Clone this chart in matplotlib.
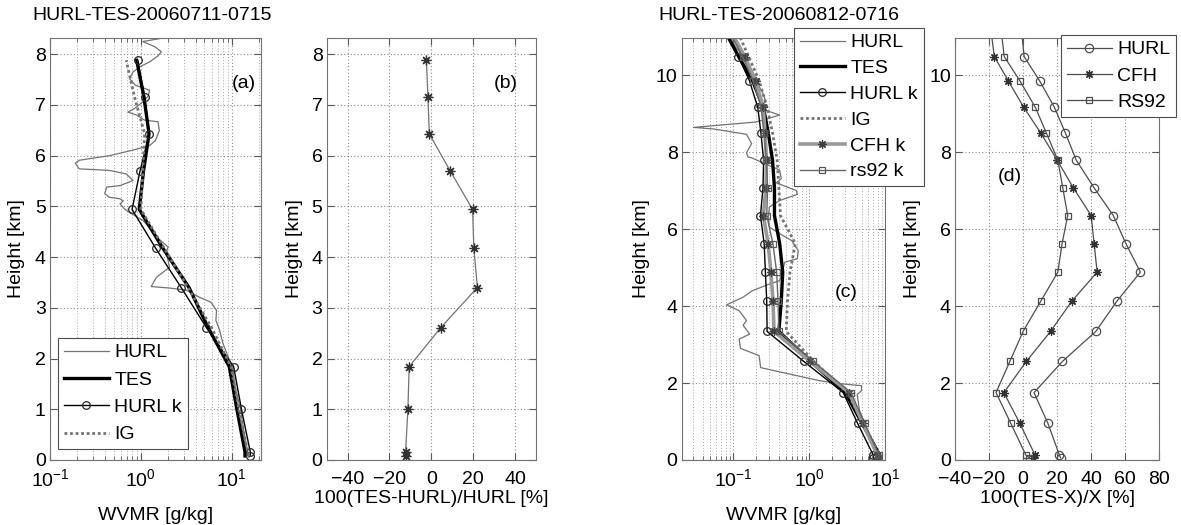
import matplotlib
matplotlib.use('Agg')
import matplotlib.pyplot as plt
from matplotlib.ticker import FixedLocator, FuncFormatter, LogLocator, NullFormatter
import numpy as np

plt.rcParams['font.family'] = ['Liberation Sans', 'DejaVu Sans']
plt.rcParams['mathtext.fontset'] = 'custom'
plt.rcParams['mathtext.rm'] = 'Liberation Sans'
plt.rcParams['mathtext.it'] = 'Liberation Sans:italic'
plt.rcParams['mathtext.bf'] = 'Liberation Sans:bold'
plt.rcParams['font.size'] = 14

# ---------------- data: case 1 (2006-07-11) ----------------
title_1 = "HURL-TES-20060711-0715"
title_2 = "HURL-TES-20060812-0716"

lev_a = [0.08, 0.16, 1.0, 1.84, 2.61, 3.40, 4.18, 4.94, 5.70, 6.43, 7.16, 7.88]
tes_a = [14.0, 14.0, 11.4, 9.4, 5.5, 3.39, 1.74, 0.96, 1.07, 1.23, 1.08, 0.90]
hurlk_a = [16.0, 16.0, 12.8, 10.5, 5.27, 2.78, 1.45, 0.80, 0.98, 1.24, 1.10, 0.92]
ig_a = [15.5, 15.0, 12.0, 9.8, 6.0, 3.3, 1.8, 1.0, 1.05, 1.1, 0.85, 0.69]
diff_b = [-12.3, -12.3, -11.2, -10.6, 4.5, 22.0, 20.3, 19.7, 9.0, -1.0, -1.6, -2.4]

hurl_a_h = [8.45, 8.33, 8.25, 8.15, 8.05, 7.97, 7.85, 7.75, 7.65, 7.52, 7.39, 7.29,
            7.17, 7.06, 6.93, 6.86, 6.80, 6.70, 6.67, 6.50, 6.30, 6.20, 6.11, 6.00,
            5.91, 5.85, 5.79, 5.74, 5.71, 5.64, 5.51, 5.41, 5.38, 5.25, 5.18, 5.15,
            5.11, 5.05, 4.95, 4.88, 4.72, 4.50, 4.39, 4.26, 4.20, 4.10, 3.80, 3.60,
            3.42, 3.39, 3.35, 3.21, 3.11, 2.95, 2.75, 2.58, 2.30, 2.00, 1.80, 1.40,
            1.00, 0.60, 0.30, 0.05]
hurl_a_x = [1.5, 1.9, 1.05, 1.42, 1.68, 1.55, 1.25, 0.97, 0.82, 0.75, 0.87, 1.25,
            1.2, 1.05, 0.85, 0.72, 0.9, 1.1, 1.54, 1.6, 1.45, 1.25, 0.82, 0.45,
            0.21, 0.19, 0.20, 0.21, 0.45, 0.69, 0.82, 0.59, 0.42, 0.40, 0.45, 0.59,
            0.64, 0.59, 0.66, 0.75, 1.06, 1.35, 1.5, 1.82, 2.0, 1.9, 2.07, 1.48,
            1.30, 2.07, 3.15, 4.4, 5.9, 6.8, 6.7, 7.3, 8.0, 9.3, 10.2, 11.0,
            12.5, 13.5, 14.5, 15.5]

# ---------------- data: case 2 (2006-08-12) ----------------
lev_c = [0.06, 0.13, 0.95, 1.75, 2.56, 3.34, 4.12, 4.88, 5.62, 6.35, 7.07, 7.79,
         8.50, 9.16, 9.85, 10.48, 11.2]
tes_c = [8.5, 8.5, 5.0, 3.0, 1.05, 0.40, 0.43, 0.45, 0.41, 0.35, 0.35, 0.33,
         0.29, 0.25, 0.18, 0.118, 0.075]
hurlk_c = [6.97, 7.0, 4.36, 2.82, 0.853, 0.28, 0.277, 0.266, 0.256, 0.229, 0.247, 0.252,
           0.232, 0.211, 0.164, 0.117, 0.075]
cfhk_c = [8.03, 7.94, 5.10, 3.38, 1.03, 0.345, 0.335, 0.314, 0.289, 0.25, 0.27, 0.275,
          0.263, 0.249, 0.197, 0.142, 0.090]
rs92k_c = [8.21, 8.37, 5.39, 3.57, 1.14, 0.40, 0.39, 0.374, 0.334, 0.277, 0.284, 0.274,
           0.255, 0.233, 0.183, 0.133, 0.085]
ig_c = [8.6, 8.5, 5.2, 3.2, 1.15, 0.50, 0.52, 0.56, 0.66, 0.42, 0.40, 0.38,
        0.33, 0.28, 0.22, 0.16, 0.11]

hurl_c_h = [11.2, 11.0, 10.7, 10.5, 10.2, 10.0, 9.7, 9.5, 9.3, 9.17, 8.96, 8.78,
            8.64, 8.60, 8.46, 8.22, 7.98, 7.87, 7.85, 7.53, 7.31, 7.20, 7.00, 6.90,
            6.74, 6.57, 6.31, 6.05, 5.88, 5.70, 5.44, 5.23, 5.14, 4.66, 4.57, 4.40,
            4.23, 4.03, 3.88, 3.62, 3.50, 3.27, 3.14, 2.90, 2.71, 2.40, 2.23, 2.06,
            1.99, 1.93, 1.80, 1.70, 1.30, 1.00, 0.60, 0.30, 0.05]
hurl_c_x = [0.085, 0.09, 0.11, 0.135, 0.16, 0.19, 0.22, 0.25, 0.27, 0.20, 0.41, 0.20,
            0.030, 0.055, 0.15, 0.175, 0.15, 0.157, 0.175, 0.41, 0.43, 0.37, 0.68, 0.70,
            0.41, 0.30, 0.29, 0.30, 0.41, 0.59, 0.72, 0.70, 0.48, 0.41, 0.30, 0.18,
            0.135, 0.082, 0.12, 0.15, 0.135, 0.165, 0.12, 0.125, 0.22, 0.23, 0.56, 1.38,
            2.3, 4.9, 4.9, 4.3, 4.6, 5.3, 6.3, 7.2, 8.3]

diff_hurl_d = [22, 21.3, 14.6, 6.4, 23.1, 42.7, 55, 68.9, 60.4, 53, 41.7, 31.2,
               24.8, 18.4, 9.7, 0.6, -1]
diff_cfh_d = [5.8, 7, -1.9, -11.3, 1.9, 16.1, 28.5, 43.5, 41.7, 40, 29.5, 20,
              10.3, 0.4, -8.7, -16.9, -19]
diff_rs92_d = [3.5, 1.6, -7.2, -15.9, -7.8, 0, 10.3, 20.4, 22.9, 26.2, 23.3, 20.4,
               13.6, 7.2, -1.9, -11.1, -13]

# ---------------- figure ----------------
W, H = 1181, 525
fig = plt.figure(figsize=(W / 100, H / 100), dpi=100)


def px_axes(l, t, r, b):
    return fig.add_axes([l / W, 1 - b / H, (r - l) / W, (b - t) / H])


ax_a = px_axes(50, 38, 261, 460)
ax_b = px_axes(326.7, 38, 536, 460)
ax_c = px_axes(681.7, 37.7, 885, 460)
ax_d = px_axes(955, 37.7, 1159.3, 460)

AST = (8, 2, 0)
C_HURL = '0.45'
C_IG = '0.45'


def style(ax, log=False):
    for s in ax.spines.values():
        s.set_color('0.45')
        s.set_linewidth(0.8)
    ax.tick_params(which='both', direction='in', top=True, right=True,
                   color='0.35', labelsize=14)
    ax.tick_params(axis='x', which='both', pad=8 if not log else 6)
    ax.tick_params(axis='y', which='both', pad=3)
    ax.tick_params(which='major', length=5)
    ax.tick_params(which='minor', length=3)
    ax.grid(True, which='major', linestyle=(0, (1, 2)), color='0.55', lw=0.8)
    if log:
        ax.grid(True, which='minor', linestyle=(0, (1, 2)), color='0.65', lw=0.7)
        ax.xaxis.set_major_locator(FixedLocator([0.1, 1, 10]))
        ax.xaxis.set_major_formatter(FuncFormatter(
            lambda v, p: r'$10^{%d}$' % int(round(np.log10(v)))))
        ax.xaxis.set_minor_locator(LogLocator(base=10, subs=np.arange(2, 10)))
        ax.xaxis.set_minor_formatter(NullFormatter())


def wvmr_panel(ax, h_raw, x_raw, lev, tes, hurlk, ig):
    ax.plot(x_raw, h_raw, color=C_HURL, lw=0.9, label='HURL')
    ax.plot(tes, lev, color='black', lw=2.4, label='TES')
    ax.plot(hurlk, lev, color='black', lw=1.0, marker='o', ms=5.5,
            mfc='none', mec='0.15', mew=0.9, label='HURL k')
    ax.plot(ig, lev, color=C_IG, lw=2.0, linestyle=(0, (1, 1)), label='IG')


def legend(ax, x, y, spacing):
    leg = ax.legend(loc='upper left', bbox_to_anchor=(x / W, 1 - y / H),
                    bbox_transform=fig.transFigure, borderaxespad=0, numpoints=1,
                    fontsize=14, handlelength=2.3, handletextpad=0.3,
                    labelspacing=spacing, borderpad=0.3, fancybox=False,
                    framealpha=1, edgecolor='0.3')
    leg.get_frame().set_linewidth(0.8)
    return leg


# (a)
wvmr_panel(ax_a, hurl_a_h, hurl_a_x, lev_a, tes_a, hurlk_a, ig_a)
ax_a.set_xscale('log')
ax_a.set_xlim(0.1, 21)
ax_a.set_ylim(0, 8.32)
ax_a.set_yticks(range(0, 9))
style(ax_a, log=True)
ax_a.set_xlabel('WVMR [g/kg]')
ax_a.set_ylabel('Height [km]')
ax_a.text(0.919, 0.893, '(a)', transform=ax_a.transAxes, ha='center', va='center', fontsize=14)
legend(ax_a, 58, 338, 0.5)

# (b)
ax_b.plot(diff_b, lev_a, color='0.45', lw=0.9, marker=AST, ms=7, mec='0.2', mew=0.9)
ax_b.set_xlim(-50, 50)
ax_b.set_ylim(0, 8.32)
ax_b.set_xticks([-40, -20, 0, 20, 40])
ax_b.set_yticks(range(0, 9))
style(ax_b)
ax_b.set_xlabel('100(TES-HURL)/HURL [%]')
ax_b.set_ylabel('Height [km]')
ax_b.text(0.857, 0.893, '(b)', transform=ax_b.transAxes, ha='center', va='center', fontsize=14)

# (c)
wvmr_panel(ax_c, hurl_c_h, hurl_c_x, lev_c, tes_c, hurlk_c, ig_c)
ax_c.plot(cfhk_c, lev_c, color='0.6', lw=2.6, marker=AST, ms=6, mec='0.25', mew=0.9,
          label='CFH k')
ax_c.plot(rs92k_c, lev_c, color='0.4', lw=1.0, marker='s', ms=5, mfc='none',
          mec='0.35', mew=0.9, label='rs92 k')
ax_c.set_xscale('log')
ax_c.set_xlim(0.021, 10)
ax_c.set_ylim(0, 10.97)
ax_c.set_yticks([0, 2, 4, 6, 8, 10])
style(ax_c, log=True)
ax_c.set_xlabel('WVMR [g/kg]')
ax_c.set_ylabel('Height [km]')
ax_c.text(0.808, 0.396, '(c)', transform=ax_c.transAxes, ha='center', va='center', fontsize=14)
legend(ax_c, 794, 28, 0.42)

# (d)
ax_d.plot(diff_hurl_d, lev_c, color='0.3', lw=0.9, marker='o', ms=6, mfc='none',
          mec='0.3', mew=0.9, label='HURL')
ax_d.plot(diff_cfh_d, lev_c, color='0.3', lw=0.9, marker=AST, ms=6, mec='0.2',
          mew=0.9, label='CFH')
ax_d.plot(diff_rs92_d, lev_c, color='0.3', lw=0.9, marker='s', ms=5, mfc='none',
          mec='0.3', mew=0.9, label='RS92')
ax_d.set_xlim(-40, 80)
ax_d.set_ylim(0, 10.97)
ax_d.set_xticks([-40, -20, 0, 20, 40, 60, 80])
ax_d.set_yticks([0, 2, 4, 6, 8, 10])
style(ax_d)
ax_d.set_xlabel('100(TES-X)/X [%]')
ax_d.set_ylabel('Height [km]')
ax_d.text(0.266, 0.672, '(d)', transform=ax_d.transAxes, ha='center', va='center', fontsize=14)
legend(ax_d, 1061, 35, 0.44)

# label positions
for ax, xr in [(ax_a, -0.118), (ax_b, -0.113), (ax_c, -0.156), (ax_d, -0.167)]:
    ax.yaxis.set_label_coords(xr, 0.5)
for ax, yr in [(ax_a, -0.112), (ax_b, -0.072), (ax_c, -0.112), (ax_d, -0.072)]:
    ax.xaxis.set_label_coords(0.5, yr)
    ax.xaxis.label.set_va('top')

fig.text(32 / W, 1 - 15 / H, title_1, ha='left', va='center', fontsize=14)
fig.text(658 / W, 1 - 15 / H, title_2, ha='left', va='center', fontsize=14)

fig.savefig('out.png', dpi=100)
